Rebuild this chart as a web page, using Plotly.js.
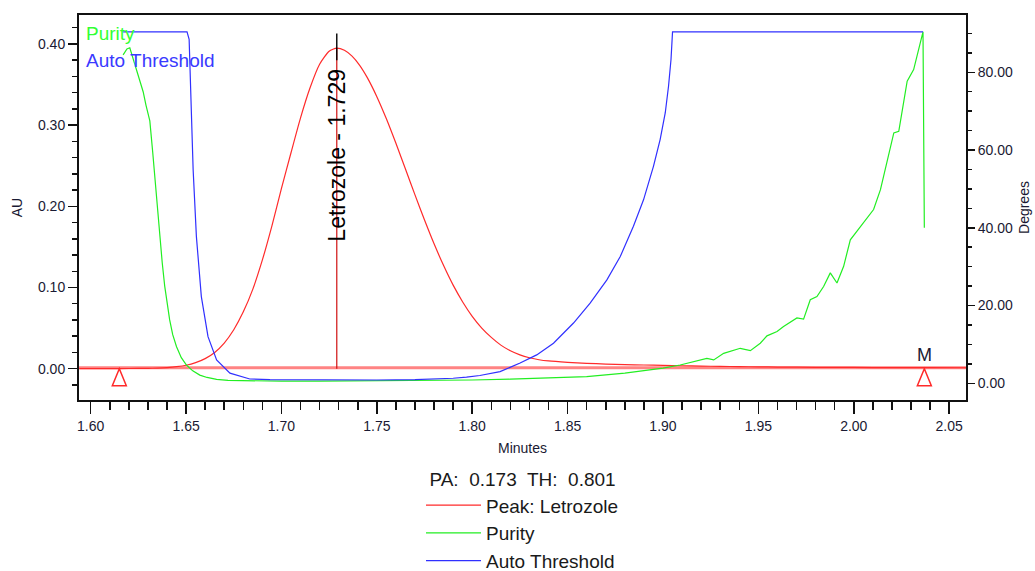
<!DOCTYPE html>
<html>
<head>
<meta charset="utf-8">
<script src="https://cdn.plot.ly/plotly-3.0.1.min.js"></script>
<style>
  html, body { margin: 0; padding: 0; background: #ffffff; }
  #chart { width: 1035px; height: 571px; }
</style>
</head>
<body>
<div id="chart"></div>
<script>
// ---------- Data ----------
// Peak (AU, left axis)
const peakTime = [1.594, 1.60, 1.61, 1.62, 1.63, 1.635, 1.64, 1.645, 1.65, 1.655, 1.66, 1.665, 1.67, 1.675, 1.68, 1.685, 1.69, 1.695, 1.70, 1.705, 1.71, 1.715, 1.72, 1.725, 1.729, 1.733, 1.737, 1.741, 1.745, 1.75, 1.755, 1.76, 1.765, 1.77, 1.775, 1.78, 1.785, 1.79, 1.795, 1.80, 1.805, 1.81, 1.815, 1.82, 1.825, 1.83, 1.835, 1.84, 1.85, 1.86, 1.87, 1.88, 1.89, 1.90, 1.91, 1.92, 1.93, 1.94, 1.95, 1.96, 1.98, 2.00, 2.02, 2.04, 2.059];
const peakAU   = [0.0, 0.0, 0.0001, 0.0002, 0.0004, 0.0007, 0.0013, 0.0024, 0.0042, 0.0074, 0.0124, 0.020, 0.0316, 0.048, 0.070, 0.098, 0.134, 0.176, 0.222, 0.266, 0.309, 0.346, 0.375, 0.391, 0.395, 0.3922, 0.385, 0.3737, 0.3585, 0.3351, 0.3078, 0.2776, 0.246, 0.2141, 0.1831, 0.1538, 0.127, 0.1029, 0.0822, 0.0645, 0.050, 0.0385, 0.029, 0.022, 0.017, 0.0135, 0.011, 0.0095, 0.0078, 0.0066, 0.0057, 0.0050, 0.0045, 0.0040, 0.0036, 0.0032, 0.0028, 0.0025, 0.0022, 0.0020, 0.0017, 0.0015, 0.0013, 0.0012, 0.0011];

// Integration baseline (AU)
const baseTime = [1.59, 2.06];
const baseAU   = [0.0012, 0.0012];

// Purity angle (Degrees, right axis)
const purityTime = [1.617, 1.619, 1.6205, 1.622, 1.623, 1.6255, 1.6275, 1.629, 1.631, 1.6325, 1.6336, 1.635, 1.6362, 1.6375, 1.6388, 1.64, 1.6414, 1.643, 1.645, 1.6475, 1.6502, 1.6535, 1.6572, 1.661, 1.666, 1.672, 1.6834, 1.70, 1.72, 1.75, 1.78, 1.80, 1.82, 1.84, 1.86, 1.88, 1.89, 1.90, 1.909, 1.916, 1.923, 1.9266, 1.9318, 1.9405, 1.9458, 1.951, 1.9545, 1.9598, 1.9632, 1.9702, 1.9737, 1.9772, 1.9807, 1.9842, 1.9877, 1.9912, 1.9947, 1.9982, 2.0035, 2.0052, 2.0104, 2.014, 2.0175, 2.021, 2.0236, 2.0253, 2.028, 2.0314, 2.0363, 2.037];
const purityDeg  = [84.5, 86.0, 86.3, 84.0, 82.0, 78.5, 75.0, 71.5, 67.5, 59.5, 53.0, 44.5, 38.0, 31.0, 25.0, 20.5, 16.3, 12.5, 9.4, 6.6, 4.7, 3.2, 2.1, 1.5, 1.0, 0.75, 0.6, 0.55, 0.55, 0.6, 0.7, 0.85, 1.05, 1.3, 1.7, 2.6, 3.2, 3.9, 4.7, 5.6, 6.4, 6.0, 7.7, 9.0, 8.4, 10.3, 12.2, 13.3, 14.6, 16.8, 16.5, 21.5, 22.3, 24.9, 28.4, 25.8, 30.1, 36.9, 40.4, 41.2, 44.7, 49.8, 57.5, 64.4, 64.8, 69.6, 77.7, 80.7, 90.4, 40.0];

// Auto threshold (Degrees, right axis)
const thresholdTime = [1.617, 1.6505, 1.6516, 1.6528, 1.6537, 1.6554, 1.658, 1.6615, 1.666, 1.673, 1.6834, 1.694, 1.72, 1.75, 1.77, 1.78, 1.79, 1.797, 1.804, 1.8146, 1.8251, 1.8338, 1.8426, 1.8531, 1.8618, 1.8706, 1.8776, 1.8845, 1.8898, 1.895, 1.8985, 1.9012, 1.9029, 1.9042, 1.905, 2.0363];
const thresholdDeg  = [90.4, 90.4, 88.5, 67.9, 55.0, 37.8, 22.3, 12.0, 6.0, 2.6, 1.1, 0.95, 0.85, 0.85, 0.95, 1.05, 1.3, 1.6, 2.0, 3.0, 5.2, 7.3, 10.3, 15.5, 20.6, 26.6, 32.6, 40.4, 47.2, 55.8, 62.7, 69.6, 76.4, 83.3, 90.4, 90.4];

// Peak annotation
const peakRT      = [1.729];
const peakApexAU  = [0.395];
const peakTickAU  = [0.38, 0.413];
const peakLabelAU = [0.2634];
const peakName    = ['Letrozole'];

// Integration start / end markers
const markerTimes  = [1.615, 2.037];
const markerLabels = ['', 'M'];

// Text
const legendTitle = 'PA:  0.173  TH:  0.801';
const seriesNames = ['Peak: Letrozole', 'Purity', 'Auto Threshold'];
const cornerLabels = ['Purity', 'Auto Threshold'];

// ---------- Styles ----------
const RED = '#ff2a2a';
const GREEN = '#22ee22';
const BLUE = '#3030ff';
const AXIS = '#111111';
const TXT = '#1a1a33';
const FONT = 'Liberation Sans, Arial, Helvetica, sans-serif';

const traces = [
  { x: baseTime, y: baseAU, mode: 'lines', line: { color: 'rgba(255,90,90,0.75)', width: 3 }, showlegend: false, hoverinfo: 'skip' },
  { x: peakTime, y: peakAU, mode: 'lines', name: seriesNames[0], line: { color: RED, width: 1.2, shape: 'spline', smoothing: 0.6 } },
  { x: purityTime, y: purityDeg, yaxis: 'y2', mode: 'lines', name: seriesNames[1], line: { color: GREEN, width: 1.2 } },
  { x: thresholdTime, y: thresholdDeg, yaxis: 'y2', mode: 'lines', name: seriesNames[2], line: { color: BLUE, width: 1.2 } },
  { x: [peakRT[0], peakRT[0]], y: [0, peakApexAU[0]], mode: 'lines', line: { color: '#d01010', width: 1.2 }, showlegend: false, hoverinfo: 'skip' },
  { x: [peakRT[0], peakRT[0]], y: peakTickAU, mode: 'lines', line: { color: '#000000', width: 1.4 }, showlegend: false, hoverinfo: 'skip' }
];

const shapes = markerTimes.map(t => ({
  type: 'path', xref: 'x', yref: 'y',
  xsizemode: 'pixel', ysizemode: 'pixel',
  xanchor: t, yanchor: 0,
  path: 'M0,0L-7,-17L7,-17Z',
  line: { color: RED, width: 1.5 },
  fillcolor: 'rgba(0,0,0,0)'
}));

const annotations = [
  { x: peakRT[0], y: peakLabelAU[0], xref: 'x', yref: 'y', text: peakName[0] + ' - ' + peakRT[0].toFixed(3), textangle: -90, showarrow: false, font: { family: FONT, size: 23, color: '#000000' } },
  { x: markerTimes[1], y: 0, xref: 'x', yref: 'y', text: markerLabels[1], yshift: 14, showarrow: false, font: { family: FONT, size: 18, color: TXT } },
  { x: 0, y: 0.953, xref: 'paper', yref: 'paper', xanchor: 'left', yanchor: 'middle', xshift: 5, text: cornerLabels[0], showarrow: false, font: { family: FONT, size: 19, color: '#33ff33' } },
  { x: 0, y: 0.883, xref: 'paper', yref: 'paper', xanchor: 'left', yanchor: 'middle', xshift: 5, text: cornerLabels[1], showarrow: false, font: { family: FONT, size: 19, color: '#3a3aff' } }
];

const axisCommon = {
  showgrid: false, zeroline: false, showline: true, linecolor: AXIS, linewidth: 2,
  ticks: 'outside', tickcolor: AXIS, tickwidth: 1.5, tickformat: '.2f',
  tickfont: { family: FONT, size: 14, color: TXT }
};

const layout = {
  width: 1035, height: 571,
  margin: { l: 79, r: 69, t: 15, b: 171 },
  paper_bgcolor: '#ffffff', plot_bgcolor: '#ffffff',
  font: { family: FONT, color: TXT },
  hovermode: false,
  showlegend: true,
  xaxis: Object.assign({}, axisCommon, {
    range: [1.59387, 2.05884], dtick: 0.05, tick0: 1.6, ticklen: 12, mirror: true,
    minor: { dtick: 0.01, ticklen: 8, tickwidth: 1.5, tickcolor: AXIS, ticks: 'outside', showgrid: false },
    title: { text: 'Minutes', font: { family: FONT, size: 14, color: TXT }, standoff: 10 }
  }),
  yaxis: Object.assign({}, axisCommon, {
    range: [-0.0386, 0.4357], dtick: 0.1, tick0: 0, ticklen: 9,
    minor: { dtick: 0.02, ticklen: 5, tickwidth: 1.5, tickcolor: AXIS, ticks: 'outside', showgrid: false },
    title: { text: 'AU', font: { family: FONT, size: 14, color: TXT }, standoff: 12 }
  }),
  yaxis2: Object.assign({}, axisCommon, {
    overlaying: 'y', side: 'right',
    range: [-4.30, 94.74], dtick: 20, tick0: 0, ticklen: 7,
    minor: { dtick: 5, ticklen: 4, tickwidth: 1.5, tickcolor: AXIS, ticks: 'outside', showgrid: false },
    title: { text: 'Degrees', font: { family: FONT, size: 14, color: TXT }, standoff: 7 }
  }),
  legend: {
    xref: 'paper', yref: 'container',
    x: 0.5, xanchor: 'center', y: 0.1916, yanchor: 'top', orientation: 'v',
    bgcolor: 'rgba(0,0,0,0)', itemwidth: 55, tracegroupgap: 0,
    font: { family: FONT, size: 19, color: '#1a1a1a' },
    title: { text: legendTitle, side: 'top center', font: { family: FONT, size: 19, color: '#1a1a1a' } }
  },
  shapes: shapes,
  annotations: annotations
};

Plotly.newPlot('chart', traces, layout, { staticPlot: true, displayModeBar: false });
</script>
</body>
</html>
